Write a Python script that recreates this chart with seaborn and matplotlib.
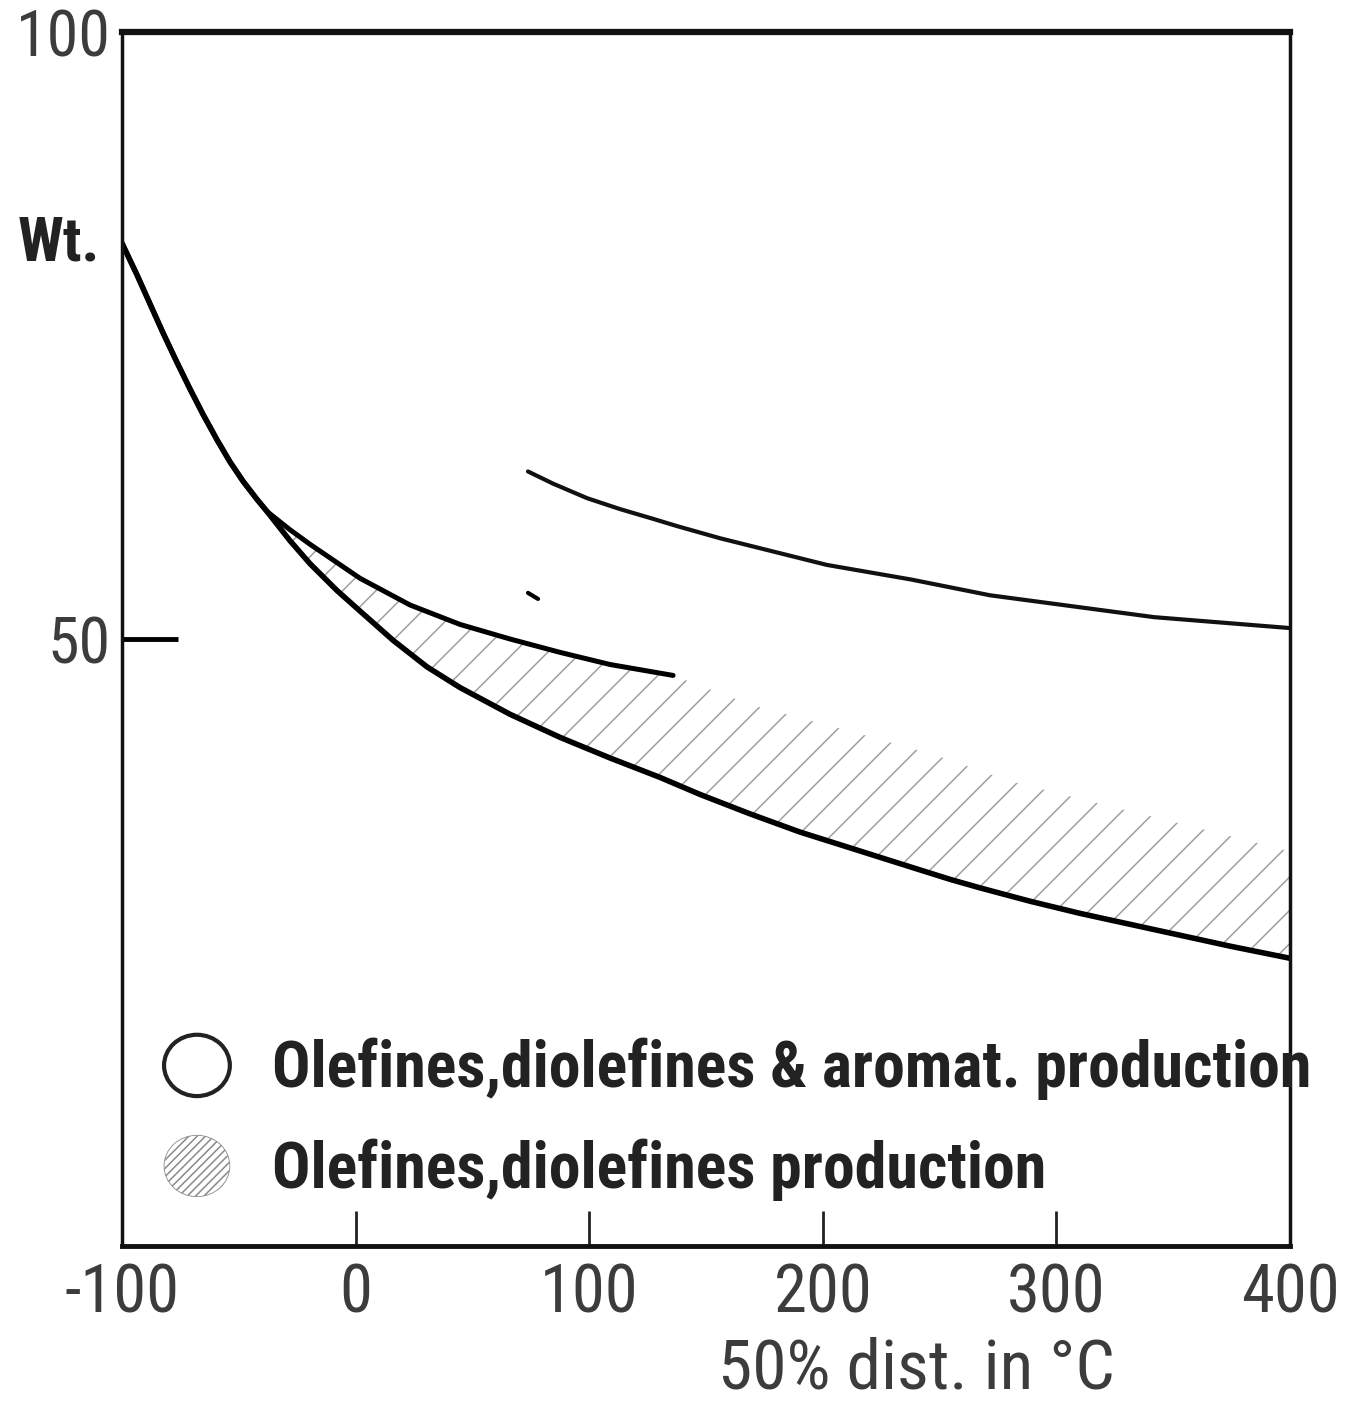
import numpy as np
import seaborn as sns
import matplotlib
matplotlib.use('Agg')
import matplotlib.pyplot as plt
from matplotlib import font_manager as fm
from matplotlib.patches import Patch, Ellipse
from matplotlib.legend_handler import HandlerPatch

# curve values (x = 50% dist. in degC, y = Wt. %)
common_x = [-100, -93.6, -88.0, -82.4, -76.5, -70.9, -65.3, -59.3, -53.8, -48.2, -42.2, -37.9]
common_y = [82.6, 80.0, 77.6, 75.2, 72.8, 70.6, 68.5, 66.4, 64.6, 63.0, 61.5, 60.5]

middle_x = [-28.1, -19.5, 1.9, 23.3, 44.7, 66.1, 87.5, 108.9, 135.9]
middle_y = [59.0, 57.8, 55.0, 52.8, 51.2, 50.0, 48.9, 47.9, 47.0]

lower_x = [-28.1, -19.5, -8.0, 1.9, 16.0, 30.6, 44.7, 66.1, 87.5, 108.9, 130.3, 147.4,
           168.8, 190.2, 211.6, 233.0, 254.5, 267.3, 288.7, 310.1, 331.5, 352.9, 374.3, 400]
lower_y = [58.1, 56.2, 54.0, 52.3, 49.9, 47.7, 46.0, 43.8, 41.9, 40.2, 38.6, 37.2,
           35.6, 34.1, 32.8, 31.5, 30.2, 29.5, 28.4, 27.4, 26.5, 25.6, 24.7, 23.7]

# upper edge of the hatched band after the middle curve stops
hatch_x = [168.8, 210, 247.2, 280, 317, 353, 388, 400]
hatch_y = [44.6, 42.5, 40.5, 38.3, 36.5, 34.8, 33.1, 32.5]

top_x = [73.8, 84.5, 99.1, 113.2, 127.3, 137.6, 156.0, 201.8, 237.8, 271.6, 306.7, 341.8, 400]
top_y = [63.8, 62.8, 61.6, 60.7, 59.9, 59.3, 58.3, 56.1, 54.9, 53.6, 52.7, 51.8, 50.9]

dash_x = [73.8, 78.1]
dash_y = [53.8, 53.3]

x_ticks = [-100, 0, 100, 200, 300, 400]
x_labels = ['-100', '0', '100', '200', '300', '400']
y_ticks = [50, 100]
y_labels = ['50', '100']
legend_labels = ['Olefines,diolefines & aromat. production',
                 'Olefines,diolefines production']


def pick(names):
    for n in names:
        try:
            fm.findfont(fm.FontProperties(family=n), fallback_to_default=False)
            return n
        except ValueError:
            pass
    return 'DejaVu Sans'


sns.set_theme(style='white')
narrow = pick(['Liberation Sans Narrow', 'DejaVu Sans Condensed', 'Roboto Condensed', 'Liberation Sans'])
plt.rcParams['font.family'] = [narrow, 'DejaVu Sans']
plt.rcParams['hatch.linewidth'] = 1.1
plt.rcParams['lines.solid_joinstyle'] = 'round'
plt.rcParams['lines.solid_capstyle'] = 'round'

fig = plt.figure(figsize=(13.55, 14.03), dpi=100)
ax = fig.add_axes([122 / 1355, 1 - 1246 / 1403, 1168 / 1355, 1214 / 1403])

upper_x = common_x + middle_x
upper_y = common_y + middle_y
low_x = common_x + lower_x
low_y = common_y + lower_y

# hatched band: between lower curve and (middle curve + its extension)
band_x = np.array([common_x[-1]] + middle_x + hatch_x + lower_x[::-1])
band_y = np.array([common_y[-1]] + middle_y + hatch_y + lower_y[::-1])
ax.fill(band_x, band_y, facecolor='none', edgecolor='#a0a0a0', hatch='/', linewidth=0)

sns.lineplot(x=upper_x, y=upper_y, ax=ax, color='black', linewidth=3.6, errorbar=None)
sns.lineplot(x=low_x, y=low_y, ax=ax, color='black', linewidth=4.0, errorbar=None)
sns.lineplot(x=top_x, y=top_y, ax=ax, color='#111', linewidth=3.0, errorbar=None)
sns.lineplot(x=dash_x, y=dash_y, ax=ax, color='black', linewidth=3.0, errorbar=None)

ax.set_xlim(-100, 400)
ax.set_ylim(0, 100)
ax.set_xticks(x_ticks)
ax.set_xticklabels(x_labels, fontsize=48, color='#3c3c3c')
ax.set_yticks(y_ticks)
ax.set_yticklabels(y_labels, fontsize=46, color='#3c3c3c')
ax.tick_params(axis='x', direction='in', length=25, width=2, color='#222', pad=12, bottom=True)
ax.tick_params(axis='y', direction='in', length=40, width=3.5, color='black', pad=8, left=True)

for side, lw in [('top', 4.5), ('bottom', 3.5), ('left', 2.5), ('right', 2.5)]:
    ax.spines[side].set_visible(True)
    ax.spines[side].set_color('#111')
    ax.spines[side].set_linewidth(lw)

ax.set_ylabel('Wt.', rotation=0, fontsize=44, fontweight='bold', color='#222',
              ha='center', va='center')
ax.yaxis.set_label_coords(-0.054, 0.826)
ax.set_xlabel('50% dist. in °C', fontsize=50, color='#3c3c3c', ha='center', va='center')
ax.xaxis.set_label_coords(0.68, -0.102)


def make_circle(legend, orig_handle, xdescent, ydescent, width, height, fontsize):
    return Ellipse(xy=(0.5 * width - xdescent, 0.5 * height - ydescent),
                   width=width, height=height)


handles = [Patch(facecolor='none', edgecolor='#222', linewidth=3),
           Patch(facecolor='none', edgecolor='#8a8a8a', hatch='////', linewidth=0.6)]
ax.legend(handles, legend_labels, loc='upper left', bbox_to_anchor=(0.036, 0.174),
          frameon=False, borderpad=0, borderaxespad=0, handlelength=1.03, handleheight=1.1,
          handletextpad=0.66, labelspacing=0.55,
          prop={'family': [narrow, 'DejaVu Sans'], 'size': 46, 'weight': 'bold'},
          handler_map={Patch: HandlerPatch(patch_func=make_circle)})
for t in ax.get_legend().get_texts():
    t.set_color('#222')

fig.savefig('out.png', dpi=100)
